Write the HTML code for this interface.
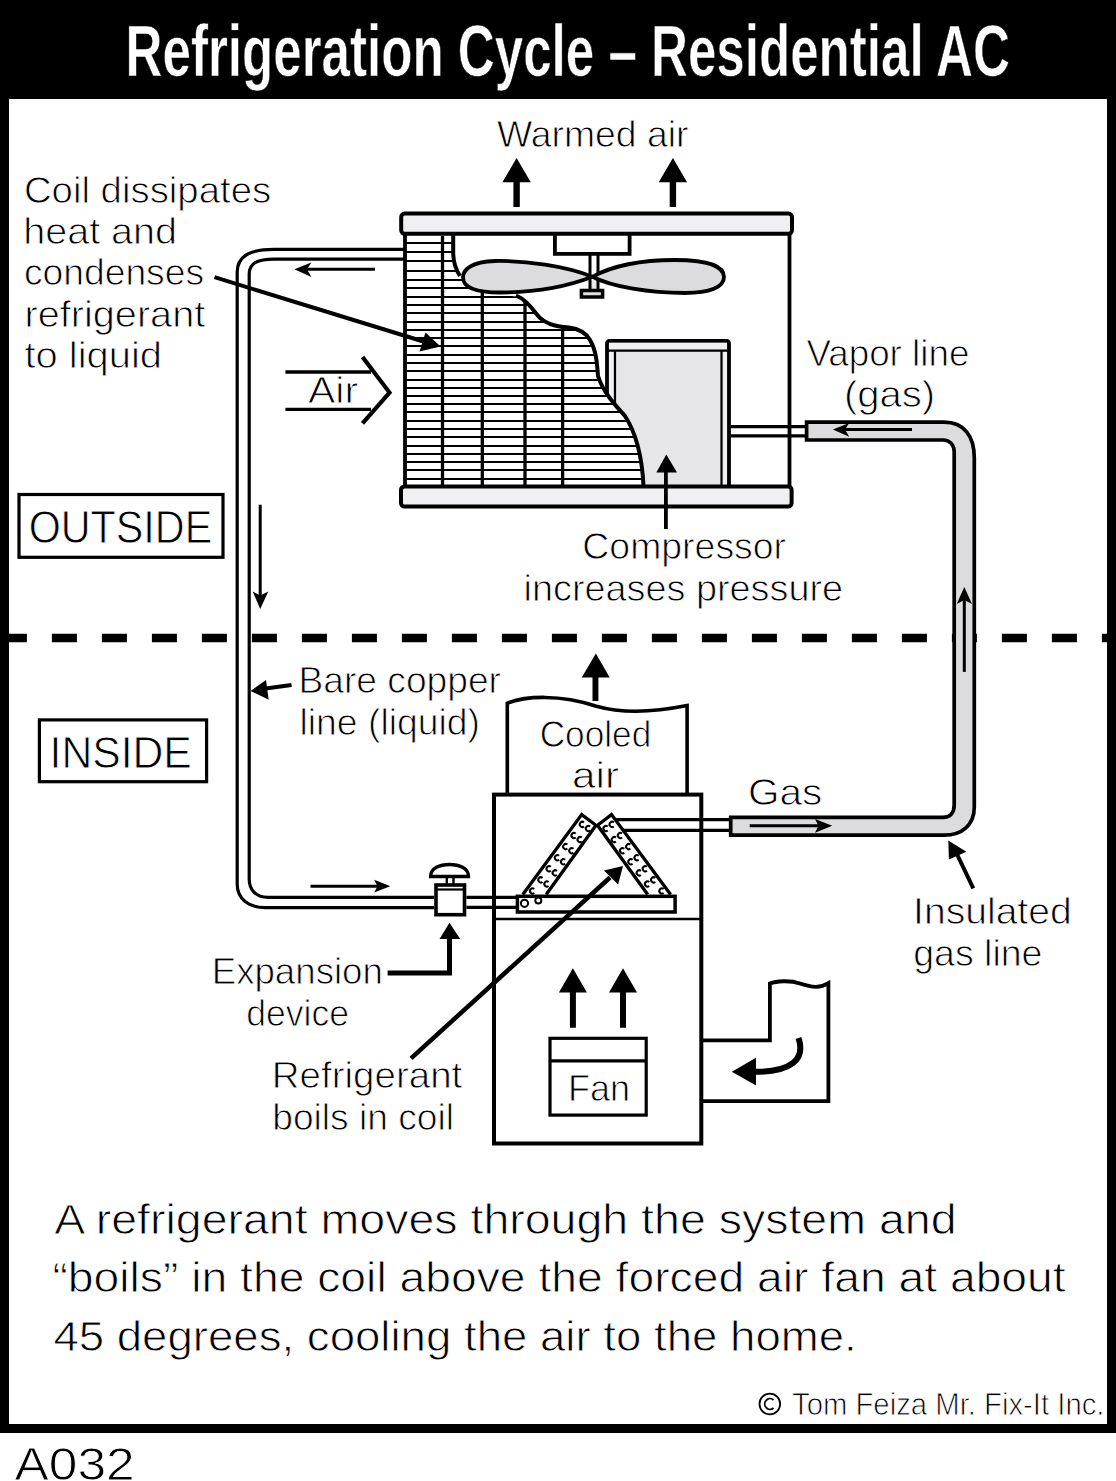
<!DOCTYPE html>
<html><head><meta charset="utf-8"><title>Refrigeration Cycle</title>
<style>
html,body{margin:0;padding:0;background:#fff;}
body{width:1116px;height:1481px;overflow:hidden;}
svg{display:block;}
text{font-family:"Liberation Sans", sans-serif;fill:#000;stroke:#fff;stroke-width:0.85px;}
</style></head><body>
<svg width="1116" height="1481" viewBox="0 0 1116 1481">
<rect x="0" y="0" width="1116" height="1433" fill="#000"/>
<rect x="9" y="99" width="1098" height="1325" fill="#fff"/>
<text x="125.6" y="76.3" font-size="73" font-weight="bold" style="fill:#fff;stroke:#000;stroke-width:0.6px" textLength="884.2" lengthAdjust="spacingAndGlyphs">Refrigeration Cycle – Residential AC</text>
<line x1="9" y1="638" x2="1107" y2="638" stroke="#000" stroke-width="8.3" stroke-dasharray="25 25" stroke-dashoffset="7.1"/>
<rect x="607" y="340.8" width="122" height="146" rx="2.5" fill="#e6e6e8" stroke="#000" stroke-width="3.8"/>
<rect x="609" y="342.8" width="118" height="8" fill="#f0f0f2"/>
<path d="M607 350.7 H729 M615 350.7 V486 M721.5 350.7 V486" stroke="#000" stroke-width="2.2" fill="none"/>
<path d="M611 352 V486 M725 352 V486" stroke="#f2f2f4" stroke-width="3.6" fill="none"/>
<clipPath id="finclip"><path d="M405 236 H453.2 V254 C453.5 262 456 270 460 276 C465 284 472 289 493 293.5 C505 296 515 296 522 297 C527 300 532 309 540 318 C546 323 552 326 569 327.6 C580 329 586 333 590 340 C596 350 597 362 598 376 C603 392 615 405 625 416 C636 433 642 455 643.5 486 H405 Z"/></clipPath>
<rect x="400" y="230" width="300" height="260" fill="#fff" clip-path="url(#finclip)"/>
<path d="M405 243H700M405 252H700M405 261H700M405 271H700M405 280H700M405 288H700M405 297H700M405 305H700M405 313H700M405 322H700M405 330H700M405 338H700M405 346H700M405 355H700M405 363H700M405 371H700M405 380H700M405 388H700M405 396H700M405 404H700M405 412H700M405 421H700M405 429H700M405 437H700M405 446H700M405 454H700M405 462H700M405 470H700M405 479H700" stroke="#000" stroke-width="2" clip-path="url(#finclip)"/>
<path d="M442.5 236V486 M482.3 290V486 M525 296V486 M562.6 325V486" stroke="#000" stroke-width="3.3" clip-path="url(#finclip)"/>
<path d="M405 234V487 M789.5 234V487" stroke="#000" stroke-width="3.8"/>
<path d="M453.2 235 V254 C453.5 262 456 270 460 276 M516 295.5 C527 300 532 309 540 318 C546 323 552 326 569 327.6 C580 329 586 333 590 340 C596 350 597 362 598 376 C603 392 615 405 625 416 C636 433 642 455 643.5 486" fill="none" stroke="#000" stroke-width="4"/>
<path d="M554.9 234 V253.8 H629.6 V234" fill="#fff" stroke="#000" stroke-width="3.8"/>
<rect x="590" y="280" width="8" height="9" fill="#e8e8ea"/>
<path d="M590 255V289 M598 255V289" stroke="#000" stroke-width="3"/>
<rect x="581.4" y="290.5" width="21.2" height="6.5" fill="#e0e0e2" stroke="#000" stroke-width="3.5"/>
<path d="M592.4 276.8 C566 266 525 260.5 495 261 C471 261.5 463 270 463 277.5 C463 287 475 292.5 500 292.5 C535 292.5 566 287 592.4 276.8 Z" fill="#dcdcde" stroke="#000" stroke-width="3.8"/>
<path d="M592.4 276.8 C612 266 640 260 675 260 C712 260 724 268 724 277 C724 287 710 293 685 293 C650 293 612 287 592.4 276.8 Z" fill="#dcdcde" stroke="#000" stroke-width="3.8"/>
<rect x="401.2" y="213.6" width="390.8" height="20.2" rx="3.5" fill="#f0f0f2" stroke="#000" stroke-width="4"/>
<rect x="401" y="486.5" width="390.6" height="20" rx="3.5" fill="#f0f0f2" stroke="#000" stroke-width="4"/>
<path d="M665.9 472 V529" stroke="#000" stroke-width="3.8"/>
<path d="M666.3 454.6 L677 472.5 L656.3 472.5 Z" fill="#000"/>
<path d="M516.6 158 L530.8000000000001 182.2 L519.8000000000001 182.2 V207 H513.4 V182.2 L502.40000000000003 182.2 Z" fill="#000"/>
<path d="M672.9 158 L687.1 182.2 L676.1 182.2 V207 H669.6999999999999 V182.2 L658.6999999999999 182.2 Z" fill="#000"/>
<path d="M731 426.6 H807 M731 435.9 H807" stroke="#000" stroke-width="3.2"/>
<path d="M404.4 249.3 H274 C252 249.3 237.2 255 237.2 272 V884 C237.2 899 249 907.7 265 907.7 H434 M404.4 259.1 H274 C258 259.1 249.2 263 249.2 274 V879 C249.2 890 256 897.3 268 897.3 H434 M466.4 897.4 H516 M466.4 907.3 H516" fill="none" stroke="#000" stroke-width="3.2"/>
<path d="M375 269.3 H300" stroke="#000" stroke-width="3"/><path d="M294.4 269.3 L311.4 262.5 L307 269.3 L311.4 277 Z" fill="#000"/>
<path d="M260.2 504.7 V600" stroke="#000" stroke-width="3"/><path d="M260.2 609 L252.7 591.6 L260.2 595.5 L268.3 591.6 Z" fill="#000"/>
<path d="M310.5 886.2 H385" stroke="#000" stroke-width="3"/><path d="M390.3 886.2 L374.2 879.8 L377.5 886.2 L374.2 892.4 Z" fill="#000"/>
<path d="M285.4 372 H371 M285.4 409.4 H371" stroke="#000" stroke-width="3.3"/>
<path d="M362.5 357 L389.5 392.6 L362.5 423.4" fill="none" stroke="#000" stroke-width="4.2"/>
<path d="M214.5 277.2 L425 342" stroke="#000" stroke-width="4"/><path d="M440.5 346.5 L419.5 351.5 L425.5 332.5 Z" fill="#000"/>
<path d="M806.6 422.2 H944 C964 422.2 974.3 436 974.3 458 V807 C974.3 825 962 835.2 944 835.2 H730.7 V817.4 H943 C950 817.4 954.2 813 954.2 805 V452 C954.2 445 950 440 943 440 H806.6 Z" fill="#dcdcde" stroke="#000" stroke-width="3.7"/>
<path d="M912 429.6 H840" stroke="#000" stroke-width="3"/><path d="M832.9 429.6 L849.2 422.9 L845 429.6 L849.2 436.7 Z" fill="#000"/>
<path d="M964.3 671.9 V596" stroke="#000" stroke-width="3"/><path d="M964.3 587.1 L956.7 604.1 L964.3 600 L972 604.1 Z" fill="#000"/>
<path d="M749.7 825.8 H825" stroke="#000" stroke-width="3"/><path d="M832.2 825.8 L815 819 L818.5 825.8 L815 832.8 Z" fill="#000"/>
<path d="M973.3 888.3 L955 850" stroke="#000" stroke-width="4"/><path d="M948.3 840.6 L948.9 859.4 L966.4 851.7 Z" fill="#000"/>
<rect x="19" y="494.5" width="204" height="62.8" fill="none" stroke="#000" stroke-width="3.2"/>
<rect x="39.4" y="719.9" width="167.2" height="61.8" fill="none" stroke="#000" stroke-width="3.2"/>
<path d="M291.5 685 L262 689" stroke="#000" stroke-width="4"/><path d="M250.6 690.9 L266 680 L268.7 699.7 Z" fill="#000"/>
<path d="M507.3 795 V703.2 C525 696 560 694 596.4 706.2 C620 713 650 713 687.1 705.6 V795" fill="none" stroke="#000" stroke-width="3.6"/>
<path d="M595.9 653.5 L609.7 677.6 L598.4 677.6 V700.9 H592.5 V677.6 L581.7 677.6 Z" fill="#000"/>
<rect x="494" y="794.6" width="207.3" height="348.9" fill="none" stroke="#000" stroke-width="4"/>
<path d="M615 819.6 H730 M623 830.4 H730" stroke="#000" stroke-width="3.2"/>
<path d="M522.8 894.5 L581.7 814.6 L596 825.3 L546.2 894.5" fill="none" stroke="#000" stroke-width="3.3"/>
<path d="M670.6 894.5 L611.5 814.6 L597.5 825.3 L647.7 894.5" fill="none" stroke="#000" stroke-width="3.3"/>
<path d="M584.0 822.4 A2.6 2.6 0 1 0 584.0 826.4 M590.1 826.5 A2.6 2.6 0 1 0 590.1 830.5 M575.7 833.5 A2.6 2.6 0 1 0 575.7 837.5 M581.8 837.6 A2.6 2.6 0 1 0 581.8 841.6 M567.4 844.6 A2.6 2.6 0 1 0 567.4 848.6 M573.5 848.7 A2.6 2.6 0 1 0 573.5 852.7 M559.1 855.7 A2.6 2.6 0 1 0 559.1 859.7 M565.2 859.8 A2.6 2.6 0 1 0 565.2 863.8 M550.8 866.8 A2.6 2.6 0 1 0 550.8 870.8 M556.9 870.9 A2.6 2.6 0 1 0 556.9 874.9 M542.5 877.9 A2.6 2.6 0 1 0 542.5 881.9 M548.6 882.0 A2.6 2.6 0 1 0 548.6 886.0 M534.2 889.0 A2.6 2.6 0 1 0 534.2 893.0 M613.8 822.4 A2.6 2.6 0 1 0 613.8 826.4 M607.7 826.5 A2.6 2.6 0 1 0 607.7 830.5 M622.1 833.5 A2.6 2.6 0 1 0 622.1 837.5 M616.0 837.6 A2.6 2.6 0 1 0 616.0 841.6 M630.4 844.6 A2.6 2.6 0 1 0 630.4 848.6 M624.3 848.7 A2.6 2.6 0 1 0 624.3 852.7 M638.7 855.7 A2.6 2.6 0 1 0 638.7 859.7 M632.6 859.8 A2.6 2.6 0 1 0 632.6 863.8 M647.0 866.8 A2.6 2.6 0 1 0 647.0 870.8 M640.9 870.9 A2.6 2.6 0 1 0 640.9 874.9 M655.3 877.9 A2.6 2.6 0 1 0 655.3 881.9 M649.2 882.0 A2.6 2.6 0 1 0 649.2 886.0 M663.6 889.0 A2.6 2.6 0 1 0 663.6 893.0 " fill="none" stroke="#000" stroke-width="2"/>
<rect x="517.4" y="896.3" width="157.7" height="15.7" fill="#fff" stroke="#000" stroke-width="3.5"/>
<circle cx="524.5" cy="903.3" r="3.6" fill="none" stroke="#000" stroke-width="2"/><circle cx="538.3" cy="900.4" r="3" fill="none" stroke="#000" stroke-width="2"/>
<path d="M494 919 H701" stroke="#000" stroke-width="2.5"/>
<rect x="436" y="885" width="28.5" height="29.7" fill="#fff" stroke="#000" stroke-width="3.6"/>
<path d="M436 889.5 H464.5" stroke="#000" stroke-width="2.2"/>
<path d="M446.8 876 V884 M453.5 876 V884" stroke="#000" stroke-width="2.4"/>
<path d="M430.6 876.5 C430.6 868 440 864.5 449.5 864.5 C459 864.5 468.5 868 468.5 876.5 Z" fill="#fff" stroke="#000" stroke-width="3.3"/>
<path d="M449.5 935 V973 H387.6" fill="none" stroke="#000" stroke-width="5"/><path d="M449.5 922.8 L460.2 938.9 L439.5 938.9 Z" fill="#000"/>
<path d="M411 1058.3 L610 877.5" stroke="#000" stroke-width="4.5"/><path d="M623 865.9 L603.9 870.4 L618.1 884.6 Z" fill="#000"/>
<rect x="550" y="1038.3" width="96.2" height="76.8" fill="none" stroke="#000" stroke-width="3.2"/><path d="M550 1060.8 H646" stroke="#000" stroke-width="3.2"/>
<path d="M572.9 968.3 L586.9 992.6 L575.9 992.6 V1027.8 H569.9 V992.6 L558.9 992.6 Z" fill="#000"/>
<path d="M623.0 968.3 L637.0 992.6 L626.0 992.6 V1027.8 H620.0 V992.6 L609.0 992.6 Z" fill="#000"/>
<path d="M701.3 1040.3 H769.9 V983.6 C776 981 790 980 800 983.5 C812 987.5 820 988.5 828.4 983.2 V1101.2 H701.3" fill="none" stroke="#000" stroke-width="3.8"/>
<path d="M798.5 1038 C806 1060 790 1071.8 756 1071.8" fill="none" stroke="#000" stroke-width="6"/><path d="M731.9 1071.8 L756 1057.7 L756 1085.4 Z" fill="#000"/>
<circle cx="769.8" cy="1404" r="10.3" fill="none" stroke="#000" stroke-width="1.8"/><path d="M773.5 1400 A5.3 5.3 0 1 0 773.5 1408" fill="none" stroke="#000" stroke-width="1.8"/>
<text x="496.9" y="147" font-size="37" textLength="191.6" lengthAdjust="spacingAndGlyphs">Warmed air</text>
<text x="23.9" y="203.2" font-size="36" textLength="247.3" lengthAdjust="spacingAndGlyphs">Coil dissipates</text>
<text x="23.2" y="244" font-size="36" textLength="153.9" lengthAdjust="spacingAndGlyphs">heat and</text>
<text x="23.9" y="285.4" font-size="36" textLength="180.2" lengthAdjust="spacingAndGlyphs">condenses</text>
<text x="24.5" y="326.8" font-size="36" textLength="180.7" lengthAdjust="spacingAndGlyphs">refrigerant</text>
<text x="24.5" y="368.2" font-size="36" textLength="137.5" lengthAdjust="spacingAndGlyphs">to liquid</text>
<text x="308.0" y="402.8" font-size="36" textLength="50.1" lengthAdjust="spacingAndGlyphs">Air</text>
<text x="806.4" y="365.9" font-size="36" textLength="163.0" lengthAdjust="spacingAndGlyphs">Vapor line</text>
<text x="843.9" y="407" font-size="36" textLength="91.3" lengthAdjust="spacingAndGlyphs">(gas)</text>
<text x="28.7" y="543.2" font-size="47" textLength="183.5" lengthAdjust="spacingAndGlyphs">OUTSIDE</text>
<text x="582.3" y="559.4" font-size="36" textLength="203.8" lengthAdjust="spacingAndGlyphs">Compressor</text>
<text x="523.6" y="600.5" font-size="36" textLength="319.5" lengthAdjust="spacingAndGlyphs">increases pressure</text>
<text x="298.5" y="693.4" font-size="36" textLength="202.5" lengthAdjust="spacingAndGlyphs">Bare copper</text>
<text x="299.5" y="735.4" font-size="36" textLength="180.5" lengthAdjust="spacingAndGlyphs">line (liquid)</text>
<text x="49.6" y="767.7" font-size="45" textLength="142.2" lengthAdjust="spacingAndGlyphs">INSIDE</text>
<text x="539.7" y="747" font-size="36" textLength="111.6" lengthAdjust="spacingAndGlyphs">Cooled</text>
<text x="572.1" y="788" font-size="36" textLength="47.0" lengthAdjust="spacingAndGlyphs">air</text>
<text x="747.9" y="805" font-size="36" textLength="74.3" lengthAdjust="spacingAndGlyphs">Gas</text>
<text x="913.1" y="923.9" font-size="36" textLength="158.6" lengthAdjust="spacingAndGlyphs">Insulated</text>
<text x="913.2" y="965.5" font-size="36" textLength="129.3" lengthAdjust="spacingAndGlyphs">gas line</text>
<text x="211.7" y="984.4" font-size="36" textLength="171.2" lengthAdjust="spacingAndGlyphs">Expansion</text>
<text x="246.2" y="1025.5" font-size="36" textLength="102.8" lengthAdjust="spacingAndGlyphs">device</text>
<text x="271.8" y="1087.8" font-size="36" textLength="190.5" lengthAdjust="spacingAndGlyphs">Refrigerant</text>
<text x="272.3" y="1129.5" font-size="36" textLength="181.7" lengthAdjust="spacingAndGlyphs">boils in coil</text>
<text x="567.9" y="1100.5" font-size="36" textLength="62.1" lengthAdjust="spacingAndGlyphs">Fan</text>
<text x="54.3" y="1233.8" font-size="43" textLength="902.2" lengthAdjust="spacingAndGlyphs">A refrigerant moves through the system and</text>
<text x="52.4" y="1292.2" font-size="43" textLength="1013.3" lengthAdjust="spacingAndGlyphs">“boils” in the coil above the forced air fan at about</text>
<text x="53.4" y="1350.8" font-size="43" textLength="803.4" lengthAdjust="spacingAndGlyphs">45 degrees, cooling the air to the home.</text>
<text x="792.0" y="1414.8" font-size="31" textLength="312.5" lengthAdjust="spacingAndGlyphs">Tom Feiza Mr. Fix-It Inc.</text>
<text x="14.5" y="1479.5" font-size="46" textLength="120.2" lengthAdjust="spacingAndGlyphs">A032</text>
</svg>
</body></html>
